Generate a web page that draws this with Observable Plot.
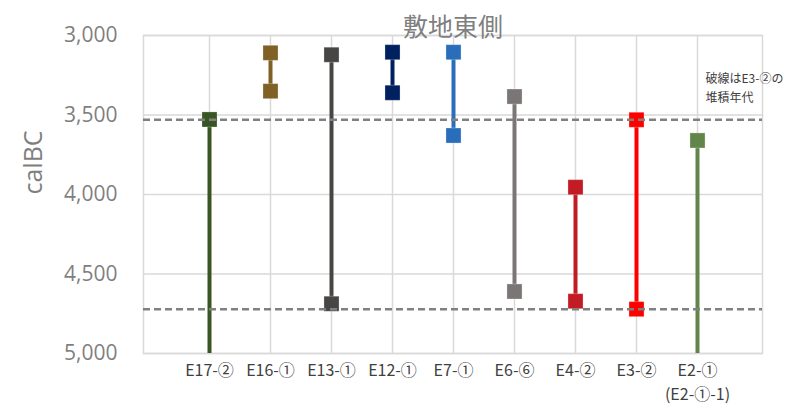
<!DOCTYPE html>
<html>
<head>
<meta charset="utf-8">
<script src="https://cdn.jsdelivr.net/npm/d3@7"></script>
<script src="https://cdn.jsdelivr.net/npm/@observablehq/plot@0.6"></script>
<style>
  html, body { margin: 0; padding: 0; background: #fff; }
</style>
</head>
<body>
<div id="chart"></div>
<script>
// Sample sites (categories)
const sites = ["E17-②", "E16-①", "E13-①", "E12-①", "E7-①", "E6-⑥", "E4-②", "E3-②", "E2-①"];
// Second line of tick label (sub-name), "" if none
const subLabels = ["", "", "", "", "", "", "", "", "(E2-①-1)"];
// Youngest end of range (calBC)
const newest = [3528, 3109, 3121, 3105, 3105, 3384, 3954, 3530, 3660];
// Oldest end of range (calBC); null = open-ended beyond axis
const oldest = [null, 3350, 4687, 3360, 3629, 4610, 4671, 4721, null];
// Series colours
const colors = ["#375623", "#7f6126", "#484644", "#002060", "#2a6ebb", "#7b7676", "#c21b24", "#ff0000", "#62854a"];
// Dashed reference lines: deposition age of E3-②
const refLines = [3530, 4721];
// Y ticks
const yTicks = [3000, 3500, 4000, 4500, 5000];
const yDomain = [3000, 5000];
const title = "敷地東側";
const yLabel = "calBC";
const noteLines = ["破線はE3-②の", "堆積年代"];

const data = sites.map((s, i) => ({
  site: s, newest: newest[i], oldest: oldest[i],
  oldestEnd: oldest[i] ?? yDomain[1], color: colors[i]
}));
const pts = [];
data.forEach(d => {
  pts.push({site: d.site, v: d.newest, color: d.color});
  if (d.oldest != null) pts.push({site: d.site, v: d.oldest, color: d.color});
});
const subs = sites.map((s, i) => ({site: s, label: subLabels[i]})).filter(d => d.label);

const font = "'Noto Sans CJK JP', 'Noto Sans', sans-serif";
const grid = "#d9d9d9";

const chart = Plot.plot({
  width: 811,
  height: 406,
  marginLeft: 143,
  marginRight: 49,
  marginTop: 35,
  marginBottom: 53,
  style: {fontFamily: font, background: "#fff", overflow: "visible"},
  x: {type: "point", domain: sites, padding: 1},
  y: {domain: yDomain, reverse: true},
  marks: [
    Plot.gridX({stroke: grid, strokeOpacity: 1, strokeWidth: 1.5}),
    Plot.gridY(yTicks, {stroke: grid, strokeOpacity: 1, strokeWidth: 1.5}),
    Plot.frame({stroke: grid, strokeWidth: 1.5}),
    Plot.axisY(yTicks, {
      tickSize: 0, tickPadding: 26, tickFormat: d3.format(","),
      fontSize: 21, fill: "#7f7f7f", label: null,
      fontFamily: "'Open Sans', sans-serif"
    }),
    Plot.axisX({
      tickSize: 0, tickPadding: 11, fontSize: 16, fill: "#404040",
      lineAnchor: "top", label: null
    }),
    Plot.text(subs, {x: "site", text: "label", frameAnchor: "bottom", dy: 46, fontSize: 16, fill: "#404040"}),
    Plot.ruleX(data, {x: "site", y1: "newest", y2: "oldestEnd", stroke: "color", strokeWidth: 4}),
    Plot.dot(pts, {x: "site", y: "v", fill: "color", symbol: "square", r: 8.5, stroke: "#ffffff", strokeOpacity: 0.35, strokeWidth: 0.8}),
    Plot.ruleY(refLines, {stroke: "#808080", strokeWidth: 2.5, strokeDasharray: "7,4"}),
    Plot.text([title], {frameAnchor: "top", dy: -17, fontSize: 25, fill: "#7f7f7f"}),
    Plot.text([yLabel], {frameAnchor: "left", dx: -110, rotate: -90, fontSize: 25, fill: "#7f7f7f", fontFamily: "'Open Sans', sans-serif"}),
    Plot.text([noteLines[0]], {x: [sites[8]], y: [3272], dx: 8, textAnchor: "start", fontSize: 12, fill: "#404040"}),
    Plot.text([noteLines[1]], {x: [sites[8]], y: [3392], dx: 8, textAnchor: "start", fontSize: 12, fill: "#404040"})
  ]
});
document.getElementById("chart").appendChild(chart);
</script>
</body>
</html>
